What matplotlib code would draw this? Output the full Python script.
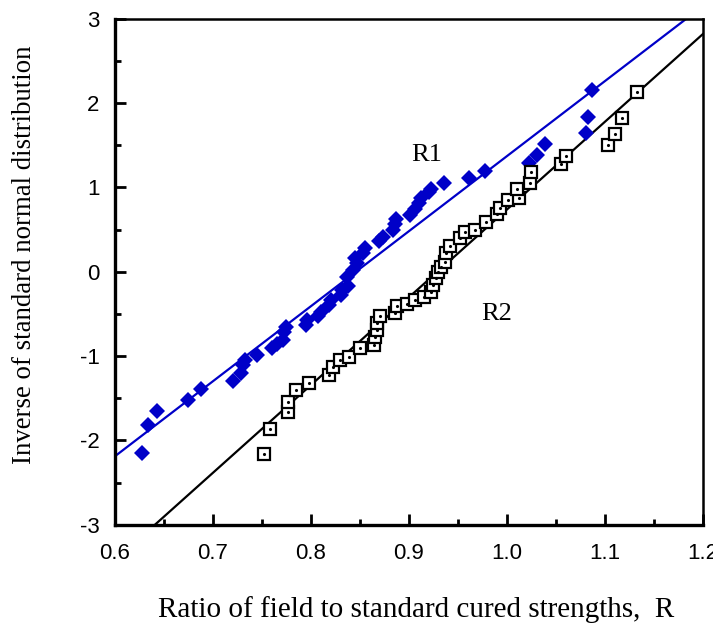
import numpy as np
import matplotlib
matplotlib.use("Agg")
import matplotlib.pyplot as plt
from matplotlib.ticker import MultipleLocator

plt.rcParams['axes.unicode_minus'] = False

# R1 points (ratio, inverse normal score)
r1_x = [0.628, 0.634, 0.643, 0.675, 0.688, 0.721, 0.729, 0.731, 0.733, 0.745,
        0.760, 0.765, 0.772, 0.773, 0.775, 0.795, 0.796, 0.807, 0.810, 0.819,
        0.821, 0.831, 0.832, 0.838, 0.837, 0.843, 0.847, 0.845, 0.853, 0.855,
        0.870, 0.874, 0.884, 0.886, 0.887, 0.901, 0.906, 0.910, 0.912, 0.920,
        0.923, 0.936, 0.961, 0.978, 1.023, 1.031, 1.039, 1.081, 1.083, 1.087]
r1_y = [-2.15, -1.82, -1.65, -1.52, -1.39, -1.30, -1.20, -1.11, -1.05, -0.99,
        -0.90, -0.86, -0.81, -0.71, -0.66, -0.63, -0.57, -0.52, -0.48, -0.39,
        -0.34, -0.28, -0.22, -0.17, -0.06, 0.02, 0.10, 0.16, 0.22, 0.28,
        0.36, 0.41, 0.49, 0.57, 0.63, 0.67, 0.74, 0.81, 0.87, 0.94,
        0.98, 1.05, 1.11, 1.20, 1.29, 1.39, 1.51, 1.64, 1.83, 2.15]

# R2 points
r2_x = [0.752, 0.758, 0.777, 0.777, 0.785, 0.798, 0.819, 0.823, 0.830, 0.839,
        0.850, 0.864, 0.865, 0.867, 0.867, 0.871, 0.886, 0.888, 0.898, 0.906,
        0.915, 0.923, 0.925, 0.928, 0.930, 0.933, 0.937, 0.938, 0.942, 0.952,
        0.957, 0.967, 0.979, 0.990, 0.993, 1.001, 1.012, 1.010, 1.024, 1.025,
        1.055, 1.060, 1.103, 1.110, 1.117, 1.133]
r2_y = [-2.16, -1.86, -1.66, -1.54, -1.40, -1.32, -1.22, -1.13, -1.05, -1.01,
        -0.91, -0.87, -0.77, -0.69, -0.61, -0.52, -0.49, -0.41, -0.38, -0.33,
        -0.30, -0.24, -0.16, -0.08, 0.00, 0.06, 0.11, 0.22, 0.30, 0.40,
        0.47, 0.49, 0.59, 0.69, 0.75, 0.85, 0.88, 0.98, 1.05, 1.18,
        1.28, 1.37, 1.50, 1.63, 1.82, 2.13]

# fitted lines (end points)
fit1_x = [0.6, 1.183]
fit1_y = [-2.19, 3.0]
fit2_x = [0.641, 1.2]
fit2_y = [-3.0, 2.82]

blue = '#0000c8'

fig = plt.figure(figsize=(7.13, 6.25), dpi=100)
ax = fig.add_axes([0.161, 0.1605, 0.825, 0.8095])

ax.plot(fit1_x, fit1_y, color=blue, lw=1.6, zorder=2)
ax.plot(fit2_x, fit2_y, color='black', lw=1.6, zorder=2)

ax.plot(r1_x, r1_y, 'D', color=blue, markersize=7.8, markeredgewidth=0, zorder=3)
ax.plot(r2_x, r2_y, 's', markerfacecolor='white', markeredgecolor='black',
        markersize=9, markeredgewidth=1.6, zorder=3)
ax.plot(r2_x, r2_y, '.', color='black', markersize=2.5, zorder=4)

ax.text(0.918, 1.39, 'R1', family='Liberation Serif', fontsize=19,
        ha='center', va='center')
ax.text(0.99, -0.50, 'R2', family='Liberation Serif', fontsize=19,
        ha='center', va='center')

ax.set_xlim(0.6, 1.2)
ax.set_ylim(-3, 3)
ax.xaxis.set_major_locator(MultipleLocator(0.1))
ax.xaxis.set_minor_locator(MultipleLocator(0.05))
ax.yaxis.set_major_locator(MultipleLocator(1))
ax.yaxis.set_minor_locator(MultipleLocator(0.5))
ax.xaxis.set_major_formatter(plt.FuncFormatter(lambda v, p: f'{v:.1f}'))
ax.yaxis.set_major_formatter(plt.FuncFormatter(lambda v, p: f'{v:.0f}'))
ax.tick_params(which='major', direction='in', length=8, width=2,
               labelsize=16)
ax.tick_params(axis='x', which='major', pad=13)
ax.tick_params(axis='y', which='major', pad=11)
ax.tick_params(which='minor', direction='in', length=4.5, width=2)
for lab in ax.get_xticklabels() + ax.get_yticklabels():
    lab.set_family('Liberation Sans')

for side in ['left', 'bottom']:
    ax.spines[side].set_linewidth(2.4)
for side in ['top', 'right']:
    ax.spines[side].set_linewidth(1.8)

ax.set_xlabel('Ratio of field to standard cured strengths,  R',
              family='Liberation Serif', fontsize=21)
ax.set_ylabel('Inverse of standard normal distribution',
              family='Liberation Serif', fontsize=19.3)
ax.xaxis.set_label_coords(0.512, -0.142)
ax.yaxis.set_label_coords(-0.133, 0.534)

fig.savefig('out.png', dpi=100)
